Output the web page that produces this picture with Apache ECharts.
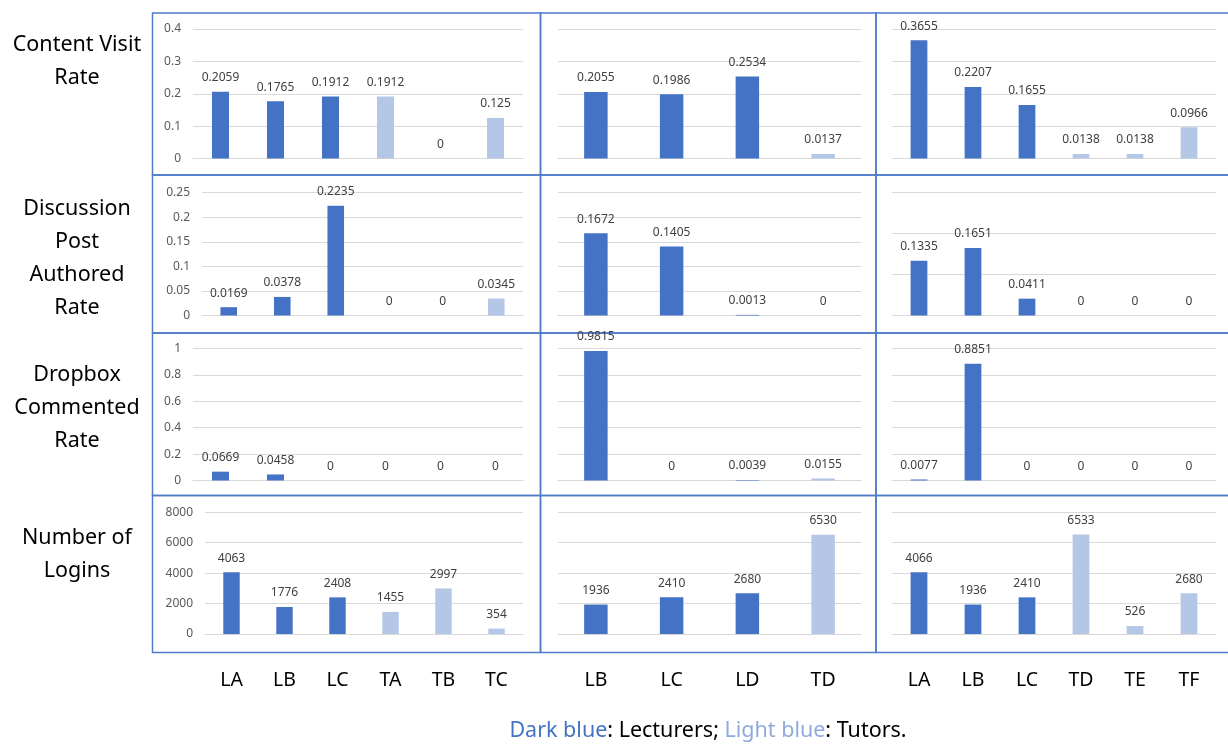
<!DOCTYPE html>
<html>
<head>
<meta charset="utf-8">
<script src="https://cdn.jsdelivr.net/npm/echarts@6/dist/echarts.min.js"></script>
<style>
  html, body { margin: 0; padding: 0; background: #ffffff; }
  #chart { width: 1228px; height: 747px; }
</style>
</head>
<body>
<div id="chart"></div>
<script>
// Staff members per course (L* = lecturer, T* = tutor)
const courseCategories = [
  ['LA', 'LB', 'LC', 'TA', 'TB', 'TC'],
  ['LB', 'LC', 'LD', 'TD'],
  ['LA', 'LB', 'LC', 'TD', 'TE', 'TF']
];

const metricNames = [
  'Content Visit\nRate',
  'Discussion\nPost\nAuthored\nRate',
  'Dropbox\nCommented\nRate',
  'Number of\nLogins'
];

// One array per course for each metric
const contentVisitRate = [
  [0.2059, 0.1765, 0.1912, 0.1912, 0, 0.125],
  [0.2055, 0.1986, 0.2534, 0.0137],
  [0.3655, 0.2207, 0.1655, 0.0138, 0.0138, 0.0966]
];
const discussionPostAuthoredRate = [
  [0.0169, 0.0378, 0.2235, 0, 0, 0.0345],
  [0.1672, 0.1405, 0.0013, 0],
  [0.1335, 0.1651, 0.0411, 0, 0, 0]
];
const dropboxCommentedRate = [
  [0.0669, 0.0458, 0, 0, 0, 0],
  [0.9815, 0, 0.0039, 0.0155],
  [0.0077, 0.8851, 0, 0, 0, 0]
];
const numberOfLogins = [
  [4063, 1776, 2408, 1455, 2997, 354],
  [1936, 2410, 2680, 6530],
  [4066, 1936, 2410, 6533, 526, 2680]
];

// Value-axis range per metric row and course column
const axisMax = [
  [0.4, 0.4, 0.4],
  [0.25, 0.25, 0.3],
  [1, 1, 1],
  [8000, 8000, 8000]
];
const axisStep = [
  [0.1, 0.1, 0.1],
  [0.05, 0.05, 0.1],
  [0.2, 0.2, 0.2],
  [2000, 2000, 2000]
];

const metricRows = [contentVisitRate, discussionPostAuthoredRate, dropboxCommentedRate, numberOfLogins];

const LECTURER_COLOR = '#4472C4';
const TUTOR_COLOR = '#B4C7E7';
const FONT = '"Noto Sans", sans-serif';

// Plot-area geometry (pixels)
const plotLeftCol1 = [193, 202, 193, 205];
const plotX = [[0, 523], [558, 861], [892, 1216]];
const plotY = [[29, 158.5], [192.7, 315.5], [348.5, 480.5], [512.3, 634]];
const panelX = [152.5, 540.5, 876, 1240];
const panelY = [13, 175, 333, 495.5, 652.5];
const rowTitleY = [61, 258.5, 408, 554.5];

const grids = [], xAxes = [], yAxes = [], series = [], graphics = [];

metricRows.forEach((rowData, r) => {
  rowData.forEach((values, c) => {
    const idx = grids.length;
    const left = c === 0 ? plotLeftCol1[r] : plotX[c][0];
    const right = plotX[c][1];
    grids.push({
      left: left, top: plotY[r][0],
      width: right - left, height: plotY[r][1] - plotY[r][0]
    });
    xAxes.push({
      type: 'category', gridIndex: idx, data: courseCategories[c],
      axisLine: { show: true, lineStyle: { color: '#d9d9d9', width: 1 } },
      axisTick: { show: false },
      axisLabel: {
        show: r === metricRows.length - 1,
        margin: 36, fontSize: 19.5, color: '#000000', fontFamily: FONT
      }
    });
    yAxes.push({
      type: 'value', gridIndex: idx, min: 0, max: axisMax[r][c], interval: axisStep[r][c],
      axisLine: { show: false }, axisTick: { show: false },
      splitLine: { lineStyle: { color: '#d9d9d9', width: 1 } },
      axisLabel: {
        show: c === 0, margin: 12, fontSize: 12, color: '#595959', fontFamily: FONT,
        formatter: v => String(Math.round(v * 10000) / 10000)
      }
    });
    series.push({
      type: 'bar', xAxisIndex: idx, yAxisIndex: idx,
      data: values, barWidth: '31%',
      itemStyle: {
        color: p => (courseCategories[c][p.dataIndex].charAt(0) === 'T' ? TUTOR_COLOR : LECTURER_COLOR)
      },
      label: {
        show: true, position: 'top', distance: 8,
        fontSize: 12, color: '#404040', fontFamily: FONT,
        formatter: p => String(p.value)
      },
      animation: false
    });
    // panel frame
    graphics.push({
      type: 'rect', silent: true,
      shape: { x: panelX[c], y: panelY[r], width: panelX[c + 1] - panelX[c], height: panelY[r + 1] - panelY[r] },
      style: { fill: 'none', stroke: '#4f7bc9', lineWidth: 1.5 }
    });
  });
  // metric name on the left
  graphics.push({
    type: 'text', silent: true, x: 77, y: rowTitleY[r],
    style: {
      text: metricNames[r], fontSize: 21.5, lineHeight: 33, fontFamily: FONT,
      fill: '#000000', align: 'center', verticalAlign: 'middle'
    }
  });
});

// colour key
graphics.push({
  type: 'text', silent: true, x: 708, y: 731,
  style: {
    text: '{d|Dark blue}{k|: Lecturers; }{l|Light blue}{k|: Tutors.}',
    align: 'center', verticalAlign: 'middle', fontFamily: FONT, fontSize: 21.5,
    rich: {
      d: { fill: '#4472C4', fontSize: 21.5, fontFamily: FONT },
      l: { fill: '#8FAADC', fontSize: 21.5, fontFamily: FONT },
      k: { fill: '#000000', fontSize: 21.5, fontFamily: FONT }
    }
  }
});

const chart = echarts.init(document.getElementById('chart'), null, { renderer: 'canvas' });
chart.setOption({
  backgroundColor: '#ffffff',
  animation: false,
  grid: grids,
  xAxis: xAxes,
  yAxis: yAxes,
  series: series,
  graphic: graphics
});
</script>
</body>
</html>
